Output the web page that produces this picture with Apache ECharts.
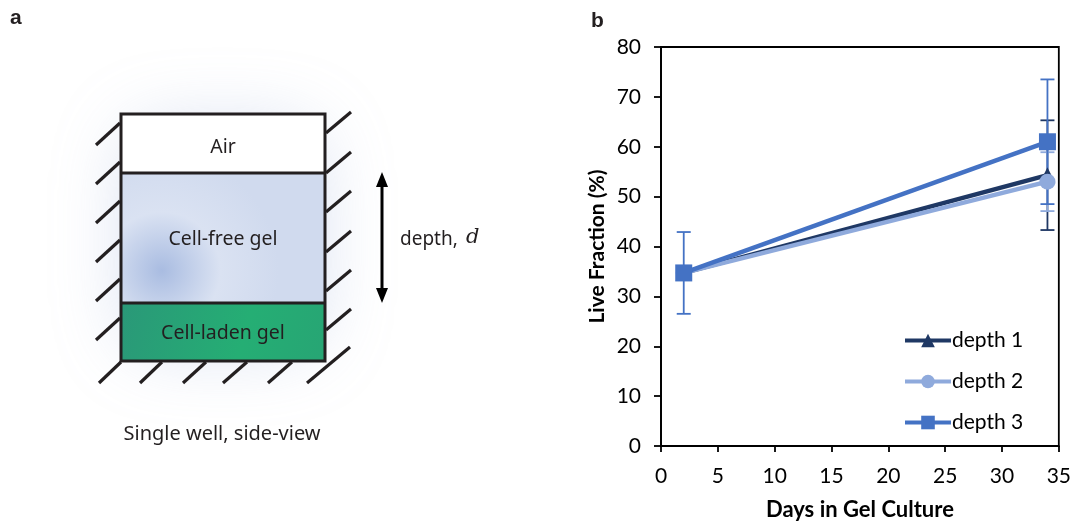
<!DOCTYPE html>
<html>
<head>
<meta charset="utf-8">
<script src="https://cdn.jsdelivr.net/npm/echarts@6/dist/echarts.min.js"></script>
<style>html,body{margin:0;padding:0;background:#fff;}#c{width:1074px;height:526px;}</style>
</head>
<body>
<div id="c"></div>
<script>
// ---- data ----
const days = [2, 34];
const depth1 = [34.7, 54.3];
const depth2 = [34.7, 53.0];
const depth3 = [34.7, 61.0];
const depth1Err = [null, 11.0];
const depth2Err = [null, 5.9];
const depth3Err = [8.2, 12.5];
const seriesNames = ['depth 1', 'depth 2', 'depth 3'];
const xTicks = [0, 5, 10, 15, 20, 25, 30, 35];
const yTicks = [0, 10, 20, 30, 40, 50, 60, 70, 80];

const colors = ['#1f3864', '#8faadc', '#4472c4'];
const symbols = ['triangle', 'circle', 'rect'];
const symbolSizes = [16, 16, 17];
const vals = [depth1, depth2, depth3];
const errs = [depth1Err, depth2Err, depth3Err];

const chart = echarts.init(document.getElementById('c'), null, {renderer: 'canvas'});

const lineSeries = vals.map((v, i) => ({
  name: seriesNames[i],
  type: 'line',
  data: days.map((d, k) => [d, v[k]]),
  symbol: symbols[i],
  symbolSize: symbolSizes[i],
  showAllSymbol: true,
  lineStyle: {color: colors[i], width: 4.5},
  itemStyle: {color: colors[i]},
  z: 5 + i,
  animation: false
}));

const errSeries = vals.map((v, i) => ({
  type: 'custom',
  name: seriesNames[i] + ' err',
  data: days.map((d, k) => [d, v[k], errs[i][k]]).filter(r => r[2] != null),
  renderItem: function (params, api) {
    const x = api.value(0), y = api.value(1), e = api.value(2);
    const top = api.coord([x, y + e]);
    const bot = api.coord([x, y - e]);
    const hw = 7;
    const st = {stroke: colors[i], lineWidth: 1.8};
    return {type: 'group', children: [
      {type: 'line', shape: {x1: top[0], y1: top[1], x2: bot[0], y2: bot[1]}, style: st},
      {type: 'line', shape: {x1: top[0] - hw, y1: top[1], x2: top[0] + hw, y2: top[1]}, style: st},
      {type: 'line', shape: {x1: bot[0] - hw, y1: bot[1], x2: bot[0] + hw, y2: bot[1]}, style: st}
    ]};
  },
  z: 3,
  silent: true,
  animation: false
}));

// ---- panel a graphics ----
const hatch = [];
const hs = {stroke: '#231f20', lineWidth: 3.2};
[123, 162, 201, 240, 279, 318].forEach(y => hatch.push({type: 'line', shape: {x1: 96, y1: y + 22, x2: 120, y2: y}, style: hs}));
[112, 152, 191, 231, 270, 309].forEach(y => hatch.push({type: 'line', shape: {x1: 326, y1: y + 21, x2: 351, y2: y}, style: hs}));
[[99, 383, 121, 362], [140, 383, 162, 362], [183, 383, 206, 362], [223, 383, 247, 362], [268, 383, 292, 362], [307, 383, 350, 347]]
  .forEach(p => hatch.push({type: 'line', shape: {x1: p[0], y1: p[1], x2: p[2], y2: p[3]}, style: hs}));

const txtFont = '19.5px "Noto Sans", "Open Sans", sans-serif';
const graphics = [
  // glow
  {type: 'rect', shape: {x: 125, y: 125, width: 195, height: 225, r: 40},
   style: {fill: 'rgba(255,255,255,1)', shadowBlur: 70, shadowColor: 'rgba(150,170,215,0.35)'}, z: 0},
  // air
  {type: 'rect', shape: {x: 121, y: 114, width: 204, height: 59}, style: {fill: '#ffffff'}, z: 1},
  // cell-free gel
  {type: 'rect', shape: {x: 121, y: 173, width: 204, height: 130},
   style: {fill: {type: 'radial', x: 0.2, y: 0.75, r: 0.9, colorStops: [
     {offset: 0, color: '#a9bce1'}, {offset: 0.5, color: '#dae2f2'}, {offset: 1, color: '#d0daee'}]}}, z: 1},
  // cell-laden gel
  {type: 'rect', shape: {x: 121, y: 303, width: 204, height: 58},
   style: {fill: {type: 'linear', x: 0, y: 0, x2: 1, y2: 1, colorStops: [
     {offset: 0, color: '#2a9878'}, {offset: 0.6, color: '#25ae74'}, {offset: 1, color: '#27a574'}]}}, z: 1},
  // outlines
  {type: 'rect', shape: {x: 121, y: 114, width: 204, height: 247}, style: {fill: null, stroke: '#231f20', lineWidth: 3}, z: 2},
  {type: 'line', shape: {x1: 121, y1: 173, x2: 325, y2: 173}, style: {stroke: '#231f20', lineWidth: 3}, z: 2},
  {type: 'line', shape: {x1: 121, y1: 303, x2: 325, y2: 303}, style: {stroke: '#231f20', lineWidth: 3}, z: 2},
  ...hatch.map(h => Object.assign(h, {z: 2})),
  // labels inside
  {type: 'text', x: 223, y: 147, style: {text: 'Air', font: txtFont, fill: '#231f20', align: 'center', verticalAlign: 'middle'}, z: 3},
  {type: 'text', x: 223, y: 239, style: {text: 'Cell-free gel', font: txtFont, fill: '#231f20', align: 'center', verticalAlign: 'middle'}, z: 3},
  {type: 'text', x: 223, y: 333, style: {text: 'Cell-laden gel', font: txtFont, fill: '#231f20', align: 'center', verticalAlign: 'middle'}, z: 3},
  // arrow
  {type: 'line', shape: {x1: 382, y1: 182, x2: 382, y2: 293}, style: {stroke: '#000', lineWidth: 3}, z: 3},
  {type: 'polygon', shape: {points: [[382, 172], [376, 187], [388, 187]]}, style: {fill: '#000'}, z: 3},
  {type: 'polygon', shape: {points: [[382, 303], [376, 288], [388, 288]]}, style: {fill: '#000'}, z: 3},
  {type: 'text', x: 400, y: 240, style: {text: 'depth,', font: '19px "Noto Sans", "Open Sans", sans-serif', fill: '#231f20', align: 'left', verticalAlign: 'middle'}, z: 3},
  {type: 'text', x: 466, y: 238, style: {text: 'd', font: 'italic 21px "DejaVu Serif", "Liberation Serif", serif', fill: '#231f20', align: 'left', verticalAlign: 'middle'}, z: 3},
  {type: 'text', x: 222, y: 434, style: {text: 'Single well, side-view', font: '20px "Noto Sans", "Open Sans", sans-serif', fill: '#231f20', align: 'center', verticalAlign: 'middle'}, z: 3},
  // panel letters
  {type: 'text', x: 10, y: 18, style: {text: 'a', font: 'bold 21px "Liberation Sans", Arial, sans-serif', fill: '#231f20', verticalAlign: 'middle'}, z: 3},
  {type: 'text', x: 591, y: 21, style: {text: 'b', font: 'bold 21px "Liberation Sans", Arial, sans-serif', fill: '#231f20', verticalAlign: 'middle'}, z: 3}
];

const fam = 'Lato, "Open Sans", sans-serif';
const labelFont = {fontFamily: fam, fontSize: 21, color: '#000'};

chart.setOption({
  animation: false,
  backgroundColor: '#fff',
  grid: {left: 661, right: 14, top: 47, bottom: 77, show: true, borderColor: '#000', borderWidth: 1.8, containLabel: false},
  xAxis: {
    type: 'value', min: xTicks[0], max: xTicks[xTicks.length - 1], interval: 5,
    name: 'Days in Gel Culture', nameLocation: 'middle', nameGap: 53,
    nameTextStyle: {fontFamily: fam, fontSize: 22, fontWeight: 'bold', color: '#000'},
    axisLine: {show: true, lineStyle: {color: '#000', width: 1.8}},
    axisTick: {show: true, length: 6, lineStyle: {color: '#000', width: 1.8}},
    axisLabel: Object.assign({margin: 20, formatter: v => String(v)}, labelFont),
    splitLine: {show: false}
  },
  yAxis: {
    type: 'value', min: yTicks[0], max: yTicks[yTicks.length - 1], interval: 10,
    name: 'Live Fraction (%)', nameLocation: 'middle', nameGap: 53,
    nameTextStyle: {fontFamily: fam, fontSize: 21, fontWeight: 'bold', color: '#000'},
    axisLine: {show: true, lineStyle: {color: '#000', width: 1.8}},
    axisTick: {show: true, length: 7, lineStyle: {color: '#000', width: 1.8}},
    axisLabel: Object.assign({margin: 20, formatter: v => String(v)}, labelFont),
    splitLine: {show: false}
  },
  legend: {
    data: seriesNames,
    orient: 'vertical',
    left: 903, top: 330,
    padding: 0,
    itemWidth: 46, itemHeight: 17, itemGap: 20,
    lineStyle: {width: 4},
    textStyle: {fontFamily: fam, fontSize: 21, color: '#000', padding: [0, 0, 0, -4]}
  },
  graphic: graphics,
  series: [...errSeries, ...lineSeries]
});
</script>
</body>
</html>
